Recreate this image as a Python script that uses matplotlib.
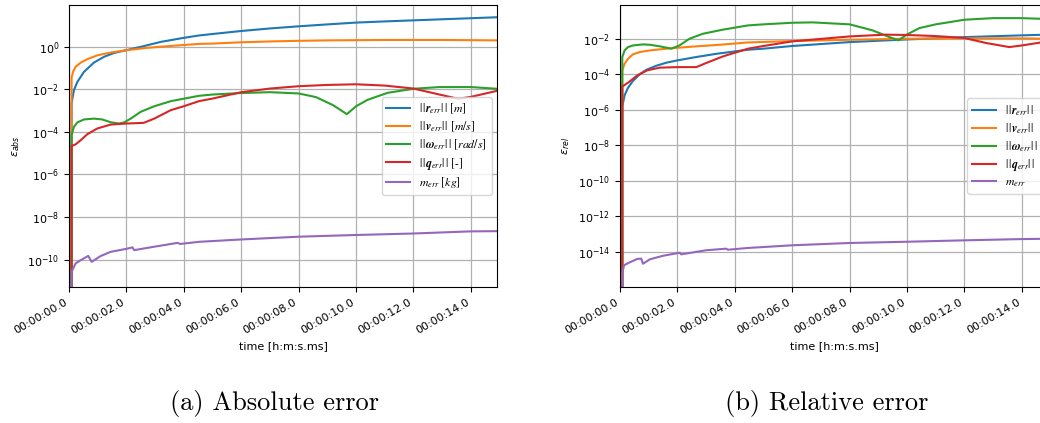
import numpy as np
import matplotlib
matplotlib.use("Agg")
import matplotlib.pyplot as plt
from matplotlib.ticker import FuncFormatter, NullLocator
from matplotlib.font_manager import FontProperties

# valores (expoentes log10); o primeiro ponto fica abaixo do eixo
BOTTOM = -20

# --- erro absoluto ---
t_r_abs = [0.09, 0.09, 0.17, 0.29, 0.52, 0.87, 1.22, 1.57, 2.0, 2.6, 3.2, 4.0, 4.53, 5.0, 6.0, 7.0, 8.0, 9.0, 10.0, 11.0, 12.0, 13.0, 14.0, 14.9]
r_abs = [BOTTOM, -2.67, -2.05, -1.66, -1.19, -0.75, -0.48, -0.3, -0.17, 0.02, 0.22, 0.41, 0.52, 0.59, 0.73, 0.85, 0.95, 1.04, 1.125, 1.18, 1.23, 1.28, 1.33, 1.375]

t_v_abs = [0.09, 0.09, 0.14, 0.23, 0.41, 0.64, 0.99, 1.45, 2.0, 2.73, 3.55, 4.53, 5.0, 6.0, 7.0, 8.0, 9.0, 10.0, 11.0, 12.0, 13.0, 14.0, 14.9]
v_abs = [BOTTOM, -1.45, -1.19, -0.95, -0.75, -0.59, -0.41, -0.28, -0.17, -0.06, 0.03, 0.125, 0.14, 0.2, 0.24, 0.27, 0.29, 0.3, 0.31, 0.31, 0.31, 0.3, 0.29]

t_w_abs = [0.09, 0.09, 0.17, 0.29, 0.52, 0.87, 1.16, 1.45, 1.74, 1.92, 2.15, 2.5, 2.97, 3.55, 4.53, 5.0, 6.0, 7.0, 8.0, 8.6, 9.2, 9.68, 10.0, 10.4, 11.1, 12.0, 12.9, 14.0, 14.9]
w_abs = [BOTTOM, -4.16, -3.77, -3.56, -3.42, -3.38, -3.42, -3.55, -3.61, -3.56, -3.38, -3.06, -2.8, -2.56, -2.31, -2.25, -2.18, -2.14, -2.2, -2.37, -2.75, -3.17, -2.8, -2.5, -2.17, -1.98, -1.9, -1.9, -1.98]

t_q_abs = [0.09, 0.09, 0.23, 0.41, 0.64, 0.99, 1.45, 2.0, 2.6, 2.97, 3.55, 4.0, 4.53, 5.0, 6.0, 7.0, 8.0, 9.0, 10.0, 11.0, 12.0, 12.9, 13.56, 14.0, 14.9]
q_abs = [BOTTOM, -4.66, -4.59, -4.39, -4.11, -3.84, -3.66, -3.61, -3.58, -3.38, -2.98, -2.8, -2.56, -2.44, -2.14, -1.97, -1.86, -1.8, -1.77, -1.83, -1.97, -2.25, -2.45, -2.36, -2.08]

t_m_abs = [0.09, 0.09, 0.23, 0.41, 0.67, 0.79, 1.1, 1.45, 2.0, 2.21, 2.27, 2.97, 3.78, 3.87, 4.53, 6.0, 8.0, 10.0, 12.0, 14.0, 14.9]
m_abs = [BOTTOM, -10.57, -10.17, -10.02, -9.82, -10.1, -9.83, -9.63, -9.49, -9.42, -9.55, -9.39, -9.21, -9.26, -9.16, -9.05, -8.92, -8.84, -8.77, -8.67, -8.66]

# --- erro relativo ---
t_r_rel = [0.08, 0.08, 0.16, 0.28, 0.45, 0.69, 0.92, 1.27, 1.62, 2.0, 2.66, 3.36, 4.46, 5.0, 6.0, 8.0, 10.0, 12.0, 14.0, 14.9]
r_rel = [BOTTOM, -5.81, -5.19, -4.76, -4.38, -4.0, -3.75, -3.52, -3.35, -3.22, -3.03, -2.85, -2.62, -2.56, -2.41, -2.19, -2.04, -1.91, -1.81, -1.77]

t_v_rel = [0.08, 0.08, 0.16, 0.28, 0.45, 0.69, 1.04, 1.5, 2.0, 2.66, 3.48, 4.46, 6.0, 8.0, 10.0, 12.0, 14.0, 14.9]
v_rel = [BOTTOM, -3.78, -3.41, -3.13, -2.88, -2.75, -2.66, -2.58, -2.51, -2.43, -2.34, -2.21, -2.13, -2.06, -2.0, -1.98, -1.98, -2.0]

t_w_rel = [0.08, 0.08, 0.16, 0.28, 0.45, 0.8, 1.04, 1.39, 1.79, 2.07, 2.42, 2.89, 3.58, 4.46, 5.0, 6.0, 6.72, 8.0, 8.8, 9.39, 9.7, 10.0, 10.43, 11.0, 12.0, 13.0, 14.0, 14.9]
w_rel = [BOTTOM, -3.03, -2.66, -2.47, -2.38, -2.32, -2.34, -2.43, -2.56, -2.38, -2.0, -1.72, -1.49, -1.25, -1.19, -1.1, -1.08, -1.19, -1.53, -1.91, -2.09, -1.76, -1.4, -1.19, -0.93, -0.84, -0.84, -0.89]

t_q_rel = [0.08, 0.08, 0.14, 0.31, 0.6, 0.95, 1.39, 2.0, 2.66, 3.0, 3.58, 4.46, 5.0, 6.0, 8.0, 9.27, 10.0, 11.0, 12.0, 12.75, 13.56, 14.0, 14.9]
q_rel = [BOTTOM, -4.69, -4.63, -4.44, -4.07, -3.78, -3.63, -3.6, -3.6, -3.37, -3.0, -2.56, -2.41, -2.15, -1.87, -1.77, -1.79, -1.85, -1.96, -2.24, -2.47, -2.38, -2.15]

t_m_rel = [0.08, 0.08, 0.14, 0.31, 0.6, 0.74, 0.8, 1.04, 1.5, 2.08, 2.13, 3.0, 3.7, 3.76, 4.46, 6.0, 8.0, 10.0, 12.0, 14.0, 14.9]
m_rel = [BOTTOM, -15.2, -14.77, -14.62, -14.41, -14.39, -14.68, -14.43, -14.23, -14.06, -14.15, -13.92, -13.83, -13.89, -13.79, -13.64, -13.51, -13.44, -13.36, -13.29, -13.27]

labels_abs = [r"$|\,|\boldsymbol{r}_{err}|\,|$ $[m]$", r"$|\,|\boldsymbol{v}_{err}|\,|$ $[m/s]$",
              r"$|\,|\boldsymbol{\omega}_{err}|\,|$ $[rad/s]$", r"$|\,|\boldsymbol{q}_{err}|\,|$ [-]",
              r"$m_{err}$ $[kg]$"]
labels_rel = [r"$|\,|\boldsymbol{r}_{err}|\,|$", r"$|\,|\boldsymbol{v}_{err}|\,|$",
              r"$|\,|\boldsymbol{\omega}_{err}|\,|$", r"$|\,|\boldsymbol{q}_{err}|\,|$", r"$m_{err}$"]

x_ticks = [0, 2, 4, 6, 8, 10, 12, 14]


def fmt_tempo(s, pos):
    return f"00:00:{s:04.1f}"


def desenha(ax, series, labels, ylabel, ylim, yticks):
    for (t, y), lab in zip(series, labels):
        ax.plot(t, 10.0 ** np.array(y), lw=1.5, label=lab)
    ax.set_yscale("log")
    ax.set_ylim(10.0 ** ylim[0], 10.0 ** ylim[1])
    ax.set_xlim(0, 14.91)
    ax.set_yticks(10.0 ** np.array(yticks))
    ax.yaxis.set_minor_locator(NullLocator())
    ax.set_xticks(x_ticks)
    ax.xaxis.set_major_formatter(FuncFormatter(fmt_tempo))
    ax.tick_params(labelsize=8)
    for lbl in ax.get_xticklabels():
        lbl.set_rotation(30)
        lbl.set_ha("right")
    ax.grid(True, color="#b0b0b0", lw=0.9)
    ax.set_xlabel("time [h:m:s.ms]", fontsize=8)
    ax.set_ylabel(ylabel, fontsize=8)
    prop = FontProperties(family="STIXGeneral", size=8.5, math_fontfamily="stix")
    ax.legend(loc="center right", prop=prop, framealpha=0.8, labelspacing=0.3,
              borderaxespad=0.45)


fig = plt.figure(figsize=(10.4, 4.23), dpi=100)
ax1 = fig.add_axes([69 / 1040, 1 - 287 / 423, 428 / 1040, 282 / 423])
ax2 = fig.add_axes([620 / 1040, 1 - 287 / 423, 428 / 1040, 282 / 423])

desenha(ax1,
        [(t_r_abs, r_abs), (t_v_abs, v_abs), (t_w_abs, w_abs), (t_q_abs, q_abs), (t_m_abs, m_abs)],
        labels_abs, r"$\varepsilon_{abs}$", (-11.28, 1.95), [-10, -8, -6, -4, -2, 0])
desenha(ax2,
        [(t_r_rel, r_rel), (t_v_rel, v_rel), (t_w_rel, w_rel), (t_q_rel, q_rel), (t_m_rel, m_rel)],
        labels_rel, r"$\varepsilon_{rel}$", (-15.99, -0.1), [-14, -12, -10, -8, -6, -4, -2])

fig.text(275 / 1040, 1 - 403 / 423, "(a) Absolute error", family="cmr10", size=19, ha="center", va="center")
fig.text(827 / 1040, 1 - 403 / 423, "(b) Relative error", family="cmr10", size=19, ha="center", va="center")

fig.savefig("out.png", dpi=100)
